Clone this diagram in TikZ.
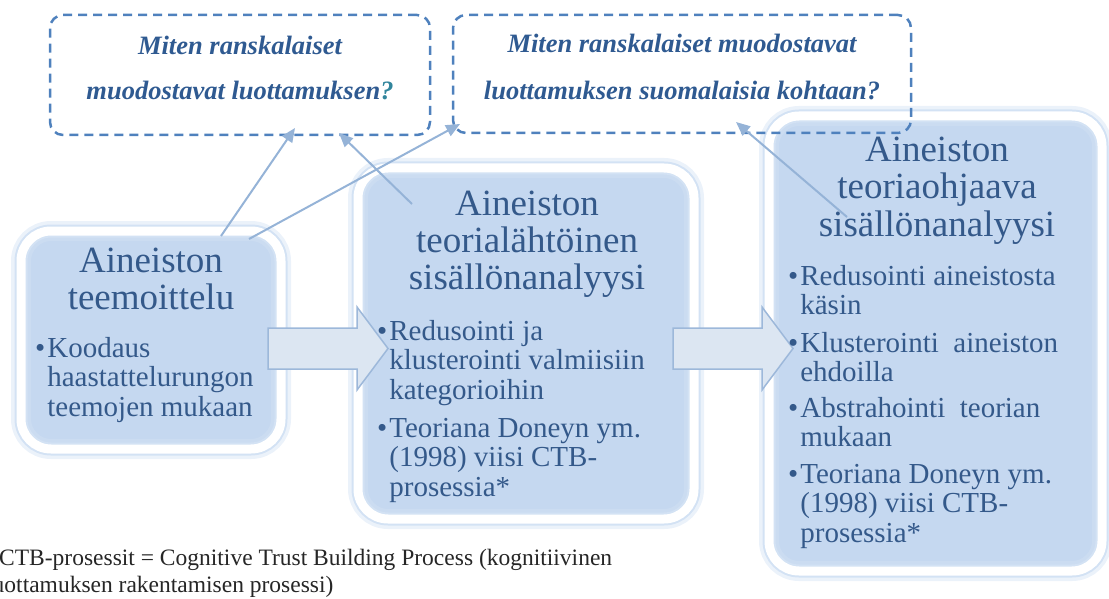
\documentclass[tikz,border=0pt]{standalone}
\usepackage{fontspec}
\setmainfont{Liberation Serif}
\usetikzlibrary{arrows.meta}
\definecolor{txtblue}{HTML}{34598A}
\definecolor{qblue}{HTML}{2F5A91}
\definecolor{qmark}{HTML}{31859C}
\definecolor{dashblue}{HTML}{4F81BD}
\definecolor{connblue}{HTML}{95B3D7}
\definecolor{boxfill}{HTML}{C5D8F0}
\definecolor{ringblue}{HTML}{D3E2F4}
\definecolor{arrfill}{HTML}{DCE6F2}
\definecolor{arrline}{HTML}{9DB8DA}
\newcommand{\lns}[1]{\begin{tabular}[t]{@{}c@{}}#1\end{tabular}}
\newcommand{\itm}[1]{\textbullet\hspace{2pt}\begin{tabular}[t]{@{}l@{}}#1\end{tabular}}
\tikzset{
  glowbox/.style={rectangle, rounded corners=30pt, inner sep=0pt,
    preaction={fill=boxfill},
    preaction={draw=ringblue, line width=20pt, draw opacity=0.45},
    draw=ringblue, line width=13pt,
    postaction={draw=white, line width=9pt}},
  qbox/.style={rectangle, rounded corners=13pt, inner sep=0pt, draw=dashblue,
    dash pattern=on 9pt off 6pt, line width=2.5pt},
  qtext/.style={anchor=base, inner sep=0pt, text=qblue,
    font=\fontsize{26.5}{26.5}\selectfont\bfseries\itshape},
  ttl/.style={anchor=base, inner sep=0pt, text=txtblue,
    font=\fontsize{37}{37}\selectfont},
  bul/.style={anchor=base west, inner sep=0pt, text=txtblue,
    font=\fontsize{29}{29.5}\selectfont},
  foot/.style={anchor=base west, inner sep=0pt, text=black!85,
    font=\fontsize{23.5}{23.5}\selectfont},
  conn/.style={draw=connblue, line width=2pt, -{Triangle[length=14pt,width=12pt]}},
  blockarrow/.style={fill=arrfill, draw=arrline, line width=1.5pt, line join=miter}
}
\begin{document}
\begin{tikzpicture}[x=1pt,y=-1pt]
\useasboundingbox (0,0) rectangle (1109,599);
\clip (0,0) rectangle (1109,599);
% glowing boxes
\node[glowbox, minimum width=260pt, minimum height=218pt] (b1) at (151,340) {};
\node[glowbox, minimum width=336pt, minimum height=351pt] (b2) at (526,343.5) {};
\node[glowbox, minimum width=333pt, minimum height=455pt] (b3) at (935.5,343.5) {};
% block arrows
\draw[blockarrow] (268,328) -- (357,328) -- (357,307) -- (388,348.5) -- (357,390) -- (357,369) -- (268,369) -- cycle;
\draw[blockarrow] (673,328) -- (762,328) -- (762,307) -- (793,348.5) -- (762,390) -- (762,369) -- (673,369) -- cycle;
% question boxes
\node[qbox, minimum width=380pt, minimum height=120pt] (q1) at (240,75) {};
\node[qbox, minimum width=458pt, minimum height=118pt] (q2) at (682,74) {};
\node[qtext] (q1a) at (240,55) {Miten ranskalaiset};
\node[qtext] (q1b) at (240,100) {muodostavat luottamuksen\textcolor{qmark}{?}};
\node[qtext] (q2a) at (682,53) {Miten ranskalaiset muodostavat};
\node[qtext] (q2b) at (682,100) {luottamuksen suomalaisia kohtaan?};
% box texts
\node[ttl] (t1) at (151,272) {\lns{Aineiston\\teemoittelu}};
\node[bul] (t1a) at (35,357) {\itm{Koodaus\\haastattelurungon\\teemojen mukaan}};
\node[ttl] (t2) at (527,215) {\lns{Aineiston\\teorialähtöinen\\sisällönanalyysi}};
\node[bul] (t2a) at (377,340) {\itm{Redusointi ja\\klusterointi valmiisiin\\kategorioihin}};
\node[bul] (t2b) at (377,437) {\itm{Teoriana Doneyn ym.\\(1998) viisi CTB-\\prosessia*}};
\node[ttl] (t3) at (937,162) {\lns{Aineiston\\teoriaohjaava\\sisällönanalyysi}};
\node[bul] (t3a) at (788,285) {\itm{Redusointi aineistosta\\käsin}};
\node[bul] (t3b) at (788,352) {\itm{Klusterointi\ \ aineiston\\ehdoilla}};
\node[bul] (t3c) at (788,417) {\itm{Abstrahointi\ \ teorian\\mukaan}};
\node[bul] (t3d) at (788,483) {\itm{Teoriana Doneyn ym.\\(1998) viisi CTB-\\prosessia*}};
% footnote
\node[foot] (f1) at (-1,565) {CTB-prosessit = Cognitive Trust Building Process (kognitiivinen};
\node[foot] (f2) at (-14,592) {luottamuksen rakentamisen prosessi)};
% connectors
\coordinate (a1s) at (221,236); \coordinate (a1e) at (295,128);
\coordinate (a2s) at (249,239); \coordinate (a2e) at (460,124);
\coordinate (a3s) at (412,204); \coordinate (a3e) at (339,133);
\coordinate (a4s) at (847,217); \coordinate (a4e) at (736,122);
\draw[conn] (a1s) -- (a1e);
\draw[conn] (a2s) -- (a2e);
\draw[conn] (a3s) -- (a3e);
\draw[conn] (a4s) -- (a4e);
\end{tikzpicture}
\end{document}
